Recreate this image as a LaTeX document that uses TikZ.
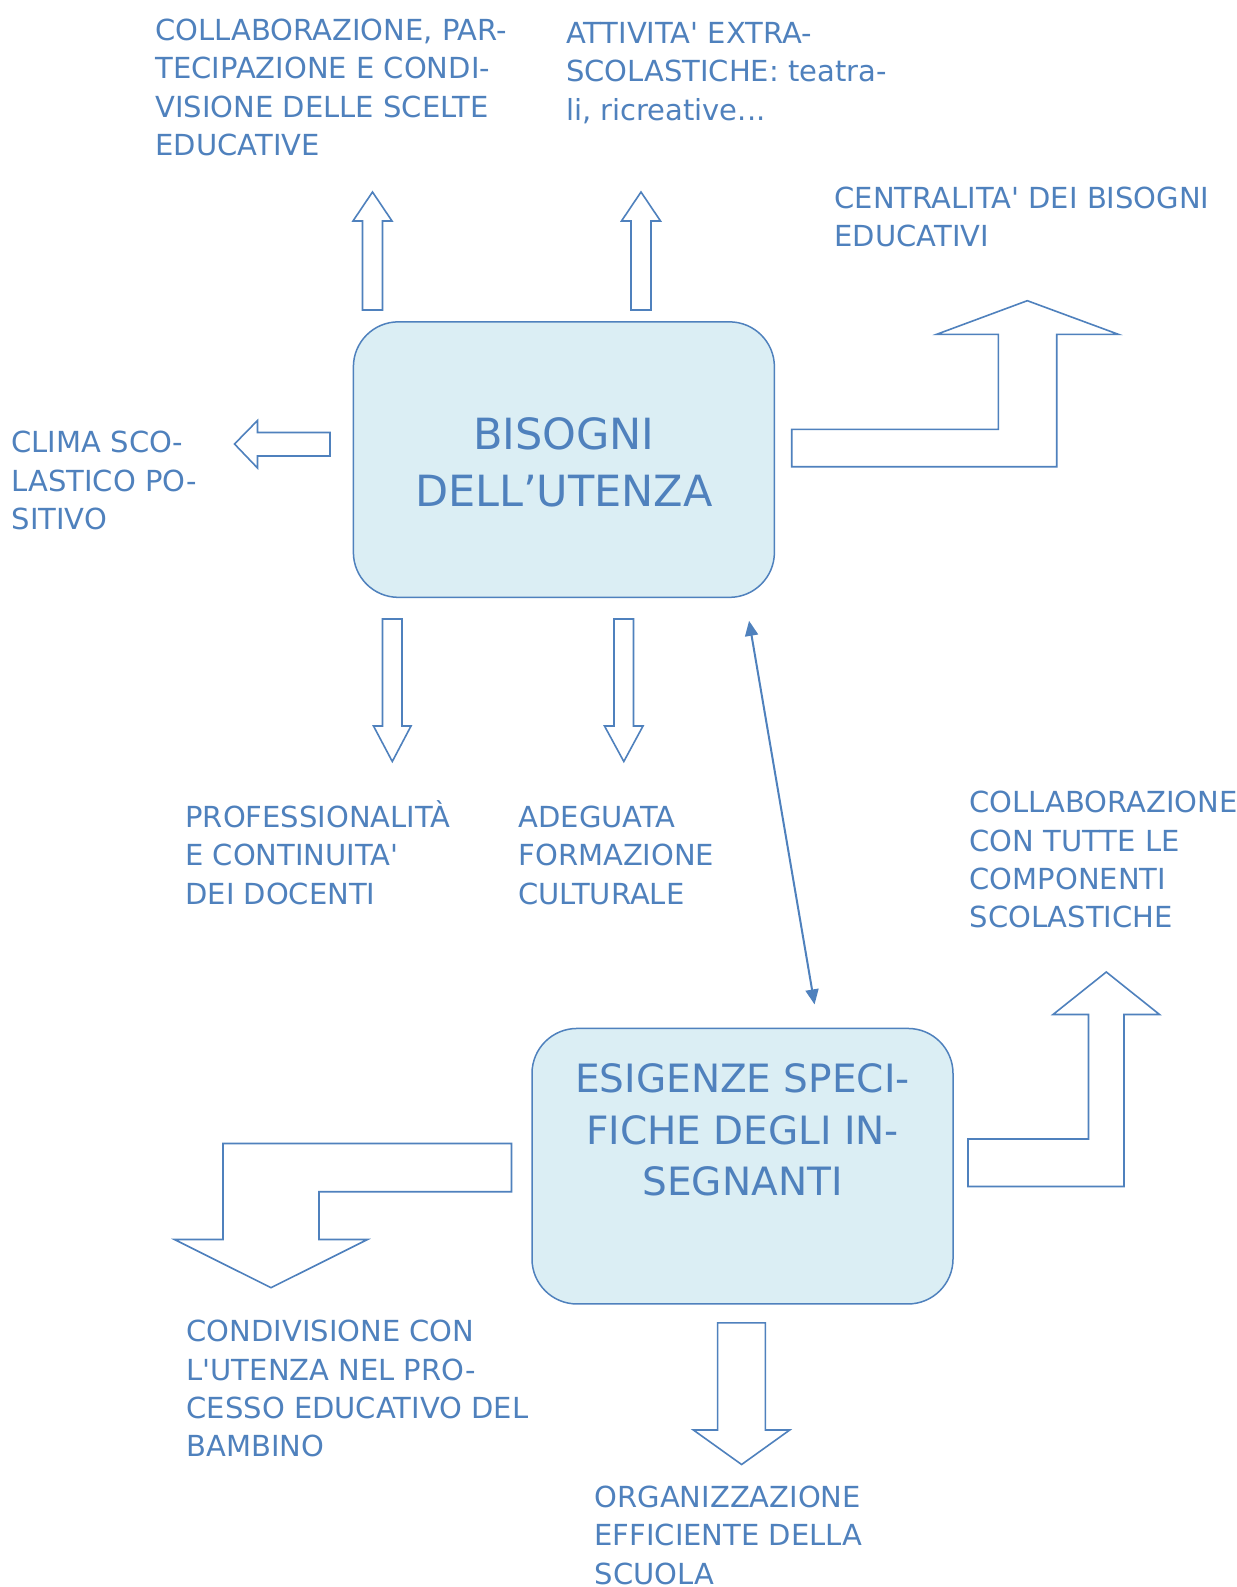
\documentclass[tikz,border=0pt]{standalone}
\usepackage{fontspec}
\setmainfont{DejaVu Sans}
\usetikzlibrary{positioning,arrows.meta}
\definecolor{ofblue}{HTML}{4F81BD}
\definecolor{ofaqua}{HTML}{DBEEF4}
\tikzset{
  ubox/.style={draw=ofblue,fill=ofaqua,line width=1.5bp,rounded corners=45bp,
    minimum width=421bp,minimum height=275.5bp,inner sep=0pt},
  intext/.style={text=ofblue,align=center,inner sep=0pt},
  lbl/.style={text=ofblue,align=left,inner sep=0pt,anchor=base west,
    font=\fontsize{29bp}{38.4bp}\selectfont},
  blk/.style={draw=ofblue,line width=1.6bp,line join=miter},
  twoway/.style={draw=ofblue,line width=2bp,
    {Triangle[length=15bp,width=13bp]}-{Triangle[length=15bp,width=13bp]}}
}

\begin{document}
\begin{tikzpicture}[x=1bp,y=-1bp]
\path[use as bounding box,fill=white] (0,0) rectangle (1236,1587);

\node[ubox] (bisogni) at (563.9,459.6) {};
\node[below=96bp of bisogni.north,intext,font=\fontsize{43bp}{57.3bp}\selectfont] (bisognitext) {BISOGNI\\DELL’UTENZA};
\node[ubox] (esig) at (742.5,1166.2) {};
\node[below=35.5bp of esig.north,intext,font=\fontsize{39bp}{51.7bp}\selectfont] (esigtext) {ESIGENZE SPECI-\\FICHE DEGLI IN-\\SEGNANTI};

% last baseline of each text block
\node[lbl] (partec) at (155.4,155.6) {COLLABORAZIONE, PAR-\\TECIPAZIONE E CONDI-\\VISIONE DELLE SCELTE\\EDUCATIVE};
\node[lbl] (extra) at (565.8,120.1) {ATTIVITA\textquotesingle{} EXTRA-\\SCOLASTICHE: teatra-\\li, ricreative...};
\node[lbl] (centr) at (834.4,246.7) {CENTRALITA\textquotesingle{} DEI BISOGNI\\EDUCATIVI};
\node[lbl] (clima) at (11.4,529.5) {CLIMA SCO-\\LASTICO PO-\\SITIVO};
\node[lbl] (prof) at (185.2,904.1) {PROFESSIONALITÀ\\E CONTINUITA\textquotesingle\\DEI DOCENTI};
\node[lbl] (form) at (518.3,904.1) {ADEGUATA\\FORMAZIONE\\CULTURALE};
\node[lbl] (compon) at (969.4,927.9) {COLLABORAZIONE\\CON TUTTE LE\\COMPONENTI\\SCOLASTICHE};
\node[lbl] (condiv) at (186.4,1456.8) {CONDIVISIONE CON\\L\textquotesingle UTENZA NEL PRO-\\CESSO EDUCATIVO DEL\\BAMBINO};
\node[lbl] (organ) at (594.4,1584.1) {ORGANIZZAZIONE\\EFFICIENTE DELLA\\SCUOLA};

\draw[blk] (362.5,310) -- (362.5,221) -- (353,221) -- (372.5,192) -- (392,221) -- (382.5,221) -- (382.5,310) -- cycle;
\draw[blk] (631,310) -- (631,221) -- (621.5,221) -- (641,192) -- (660.5,221) -- (651,221) -- (651,310) -- cycle;
\draw[blk] (330,432.5) -- (257.5,432.5) -- (257.5,420.5) -- (234.5,444) -- (257.5,468) -- (257.5,456) -- (330,456) -- cycle;
\draw[blk] (382.5,619) -- (382.5,726) -- (373.5,726) -- (392.3,761.5) -- (411,726) -- (402,726) -- (402,619) -- cycle;
\draw[blk] (614,619) -- (614,726) -- (604.5,726) -- (623.8,761.5) -- (643,726) -- (633.5,726) -- (633.5,619) -- cycle;
\draw[blk] (791.7,429.3) -- (998.3,429.3) -- (998.3,334.3) -- (936.7,334.3) -- (1027.3,300.7) -- (1118.3,334.3) -- (1056.7,334.3) -- (1056.7,466.7) -- (791.7,466.7) -- cycle;
\draw[blk] (968,1139) -- (1088.5,1139) -- (1088.5,1014.5) -- (1053,1014.5) -- (1106.3,972) -- (1159.5,1014.5) -- (1124,1014.5) -- (1124,1186.5) -- (968,1186.5) -- cycle;
\draw[blk] (511.5,1143.5) -- (223,1143.5) -- (223,1239.5) -- (174.5,1239.5) -- (271,1287.7) -- (367.5,1239.5) -- (319,1239.5) -- (319,1191.7) -- (511.5,1191.7) -- cycle;
\draw[blk] (717.6,1322.8) -- (717.6,1430) -- (693.4,1430) -- (741.6,1464.5) -- (789.7,1430) -- (765.4,1430) -- (765.4,1322.8) -- cycle;

\draw[twoway] ([shift={(-26.1,22.7)}]bisogni.south east) -- ([shift={(-139.2,-23.3)}]esig.north east);
\end{tikzpicture}
\end{document}
